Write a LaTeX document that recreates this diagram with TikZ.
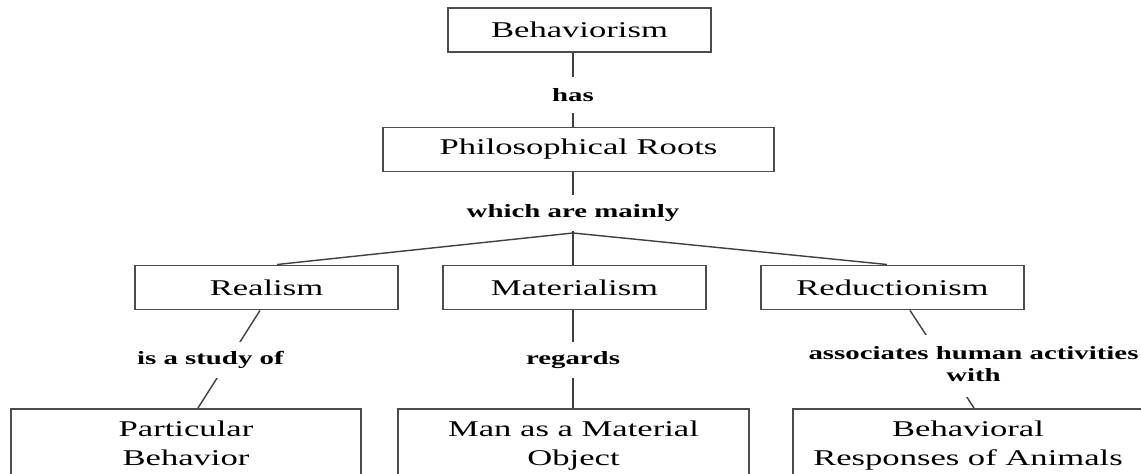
\documentclass[tikz,border=0pt]{standalone}
\usepackage{graphicx}
\usepackage{fontspec}
\setmainfont{Liberation Serif}
\usetikzlibrary{positioning,calc}

\newcommand{\squash}[1]{\scalebox{1}[0.65]{#1}}
\newcommand{\twoline}[2]{\squash{\begin{tabular}{@{}c@{}}#1\\#2\end{tabular}}}

\tikzset{
  concept/.style={draw=black!70, line width=0.55pt, fill=white, inner sep=0pt,
    minimum height=0.44cm, font=\fontsize{9.84}{12.7}\selectfont},
  leaf/.style={concept, minimum height=0.72cm, minimum width=3.5cm},
  linkword/.style={fill=white, inner xsep=1pt, inner ysep=0pt, minimum height=0.36cm,
    font=\fontsize{8.2}{9.6}\selectfont\bfseries},
  link/.style={draw=black!75, line width=0.4pt}
}

\begin{document}
\begin{tikzpicture}[x=0.01cm,y=-0.01cm]
    \useasboundingbox[fill=white] (0,0) rectangle (1141,474);
    \node[concept,minimum width=2.63cm] (behav) at (579.5,30) {\squash{Behaviorism}};
    \node[concept,minimum width=3.91cm] (roots) at (578.5,149.5) {\squash{Philosophical Roots}};
    \coordinate (apex) at (573,233);
    \node[concept,minimum width=2.63cm] (realism) at (266.5,287.5) {\squash{Realism}};
    \node[concept,minimum width=2.63cm] (mater) at (574.5,287.5) {\squash{Materialism}};
    \node[concept,minimum width=2.63cm] (reduct) at (892.5,287.5) {\squash{Reductionism}};
    \node[leaf] (partic) at (186,445) {\twoline{Particular}{Behavior}};
    \node[leaf,minimum width=3.51cm] (manobj) at (573.5,445) {\twoline{Man as a Material}{Object}};
    \node[leaf] (behresp) at (968,445) {\twoline{Behavioral}{Responses of Animals}};

    \draw[link] (behav.south -| apex) -- node[linkword,pos=0.566] {\squash{has}} (roots.north -| apex);
    \draw[link] (roots.south -| apex) -- node[linkword,pos=0.677] {\squash{which are mainly}} (apex);
    \draw[link] (apex) -- ([xshift=0.105cm]realism.north);
    \draw[link] (apex) -- (mater.north -| apex);
    \draw[link] (apex) -- ([xshift=-0.055cm]reduct.north);
    \draw[link] ([xshift=-0.065cm]realism.south) -- node[linkword,pos=0.51,xshift=-0.18cm] {\squash{is a study of}} ([xshift=0.12cm]partic.north);
    \draw[link] (mater.south -| apex) -- node[linkword,pos=0.51] {\squash{regards}} (manobj.north -| apex);
    \draw[link] ([xshift=0.175cm]reduct.south) -- node[linkword,pos=0.57,xshift=0.27cm,minimum height=0.62cm]
        {\twoline{associates human activities}{with}} ([xshift=0.06cm]behresp.north);
\end{tikzpicture}
\end{document}
